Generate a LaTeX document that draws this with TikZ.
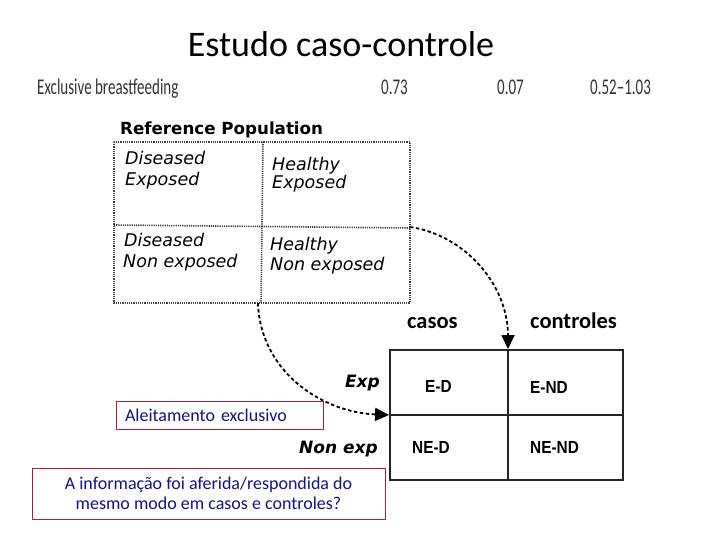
\documentclass[tikz,border=0pt]{standalone}
\usepackage{fontspec}
\setmainfont{Carlito}
\newfontfamily\scanfont{DejaVu Sans}
\newfontfamily\cellfont{Liberation Sans}
\usetikzlibrary{arrows.meta}
\definecolor{navy}{RGB}{20,20,130}
\definecolor{boxred}{RGB}{165,35,55}
\tikzset{
  dotgrid/.style={line width=1.6pt, dash pattern=on 1.2pt off 1pt, black!75},
  cell/.style={line width=1.4pt, black!85},
  dasharrow/.style={line width=1.8pt, dash pattern=on 3.5pt off 2.5pt, -{Triangle[length=14pt,width=13pt]}},
  poptext/.style={font=\scanfont\itshape\fontsize{17.5}{20}\selectfont, anchor=base west, inner sep=0pt},
  hdr/.style={font=\bfseries\fontsize{22.5}{25}\selectfont, anchor=base west, inner sep=0pt},
  celltext/.style={font=\cellfont\bfseries\fontsize{17.5}{19}\selectfont, anchor=base west, inner sep=0pt},
  rowtext/.style={font=\scanfont\bfseries\itshape\fontsize{17}{19}\selectfont, inner sep=0pt, anchor=base east},
  tabtext/.style={font=\fontsize{15}{17}\selectfont, text=black!80, inner sep=0pt, anchor=base west},
  notebox/.style={draw=boxred, line width=0.9pt, text=navy, font=\fontsize{18}{20}\selectfont, inner sep=0pt, fill=white},
}
\newcommand{\tall}[1]{\scalebox{1}[1.5]{#1}}
\newcommand{\narrowtxt}[1]{\scalebox{0.88}[1]{#1}}
\begin{document}
\begin{tikzpicture}[x=1pt,y=-1pt]
\useasboundingbox (0,0) rectangle (720,540);
% title
\node (title) [font=\fontsize{36}{40}\selectfont, inner sep=0pt, anchor=base] at (341,57) {Estudo caso-controle};
% table row
\node (eb) [tabtext] at (37,95) {\tall{Exclusive breastfeeding}};
\node (v1) [tabtext] at (381,95) {\tall{0.73}};
\node (v2) [tabtext] at (497,95) {\tall{0.07}};
\node (v3) [tabtext] at (590,95) {\tall{0.52--1.03}};
% reference population
\node (rp) [font=\scanfont\bfseries\fontsize{16.7}{19}\selectfont, anchor=base west, inner sep=0pt] at (120,135) {Reference Population};
\draw[dotgrid] (114,142) rectangle (410,303);
\draw[dotgrid] (263,142) -- (261,303);
\draw[dotgrid] (114,225) -- (410,228);
\coordinate (pr) at (410,227);
\coordinate (pb) at (258,303);
\node (de1) [poptext] at (125,165) {Diseased};
\node (de2) [poptext] at (125,186) {Exposed};
\node (he1) [poptext] at (272,171) {Healthy};
\node (he2) [poptext] at (272,189) {Exposed};
\node (dn1) [poptext] at (124,247) {Diseased};
\node (dn2) [poptext] at (123,267) {Non exposed};
\node (hn1) [poptext] at (270,250) {Healthy};
\node (hn2) [poptext] at (270,270) {Non exposed};
% case-control table
\node (casos) [hdr] at (407,328) {casos};
\node (ctrl) [hdr] at (530,328) {controles};
\draw[cell] (390,350) rectangle (623,480);
\draw[cell] (508,350) -- (508,480);
\draw[cell] (390,415) -- (623,415);
\coordinate (topmid) at (508,349);
\coordinate (leftmid) at (389,415);
\node (exp) [rowtext] at (380,387) {Exp};
\node (nexp) [rowtext] at (378,453) {Non exp};
\node (ed) [celltext] at (425,392) {\narrowtxt{E-D}};
\node (end) [celltext] at (530,393) {\narrowtxt{E-ND}};
\node (ned) [celltext] at (412,453) {\narrowtxt{NE-D}};
\node (nend) [celltext] at (530,453) {\narrowtxt{NE-ND}};
% arrows
\draw[dasharrow] (pr) .. controls (465,235) and (508,285) .. (topmid);
\draw[dasharrow] (pb) .. controls (260,370) and (320,412) .. (leftmid);
% notes
\node (ale) [notebox, minimum width=207pt, minimum height=28pt, text width=189pt, inner xsep=9pt, align=left] at (219.5,415) {Aleitamento exclusivo};
\node (info) [notebox, minimum width=353pt, minimum height=51pt, align=center] at (208.5,493.5) {A informação foi aferida/respondida do\\mesmo modo em casos e controles?};
\end{tikzpicture}
\end{document}
